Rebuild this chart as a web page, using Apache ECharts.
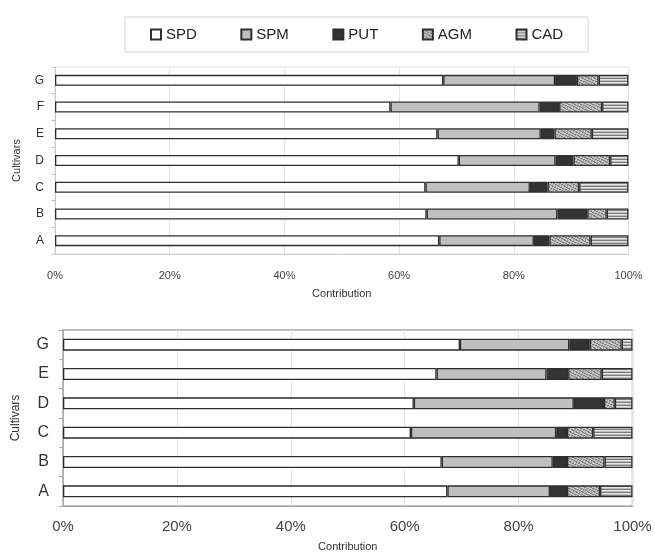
<!DOCTYPE html>
<html>
<head>
<meta charset="utf-8">
<script src="https://cdn.jsdelivr.net/npm/echarts@6/dist/echarts.min.js"></script>
<style>
  html, body { margin: 0; padding: 0; background: #fff; }
  #chart { width: 655px; height: 553px; }
</style>
</head>
<body>
<div id="chart"></div>
<script>
// Component shares (%) per cultivar, listed bottom-to-top as on the category axis
const components = ['SPD', 'SPM', 'PUT', 'AGM', 'CAD'];

const cultivarsTop = ['A', 'B', 'C', 'D', 'E', 'F', 'G'];
const spdTop = [67.0, 64.8, 64.6, 70.4, 66.7, 58.5, 67.7];
const spmTop = [16.5, 22.8, 18.2, 16.9, 18.0, 26.0, 19.5];
const putTop = [2.7, 5.2, 3.1, 3.1, 2.4, 3.4, 3.8];
const agmTop = [7.2, 3.4, 5.5, 6.4, 6.5, 7.5, 3.8];
const cadTop = [6.6, 3.8, 8.6, 3.2, 6.4, 4.6, 5.2];

const cultivarsBottom = ['A', 'B', 'C', 'D', 'E', 'G'];
const spdBottom = [67.5, 66.5, 61.1, 61.6, 65.6, 69.7];
const spmBottom = [18.0, 19.5, 25.5, 28.1, 19.3, 19.2];
const putBottom = [3.0, 2.5, 1.9, 5.3, 3.8, 3.6];
const agmBottom = [5.8, 6.6, 4.6, 1.9, 5.9, 5.6];
const cadBottom = [5.7, 4.9, 6.9, 3.1, 5.4, 1.9];

const percentTicks = { min: 0, max: 100, interval: 20 };

// Small canvas tiles used as fill patterns
function makePattern(w, h, draw) {
  const c = document.createElement('canvas');
  c.width = w; c.height = h;
  const ctx = c.getContext('2d');
  draw(ctx);
  return { image: c, repeat: 'repeat' };
}

const agmFill = makePattern(6, 6, ctx => {
  ctx.fillStyle = '#c6c6c6';
  ctx.fillRect(0, 0, 6, 6);
  ctx.fillStyle = '#808080';
  [[0,0,2,1],[2,1,2,1],[4,2,2,1],[1,3,2,1],[3,4,2,1],[5,5,1,1],[0,5,1,1]].forEach(r => ctx.fillRect(r[0], r[1], r[2], r[3]));
  ctx.fillStyle = '#a0a0a0';
  [[3,0,1,1],[0,2,1,1],[5,3,1,1],[1,4,1,1],[3,5,1,1]].forEach(r => ctx.fillRect(r[0], r[1], r[2], r[3]));
});

const cadFill = makePattern(4, 3, ctx => {
  ctx.fillStyle = '#7c7c7c'; ctx.fillRect(0, 0, 4, 1);
  ctx.fillStyle = '#e6e6e6'; ctx.fillRect(0, 1, 4, 1);
  ctx.fillStyle = '#bdbdbd'; ctx.fillRect(0, 2, 4, 1);
});

const fills = ['#ffffff', '#c0c0c0', '#333333', agmFill, cadFill];
const topValues = [spdTop, spmTop, putTop, agmTop, cadTop];
const bottomValues = [spdBottom, spmBottom, putBottom, agmBottom, cadBottom];

const font = 'Liberation Sans, Arial, sans-serif';

function barSeries(idx, values, gridIdx, width) {
  return {
    name: components[idx],
    type: 'bar',
    stack: gridIdx === 0 ? 'upper' : 'lower',
    xAxisIndex: gridIdx,
    yAxisIndex: gridIdx,
    barWidth: width,
    data: values,
    itemStyle: { color: fills[idx], borderColor: '#2e2e2e', borderWidth: 1.3 },
    emphasis: { disabled: true },
    silent: true
  };
}

const series = [];
components.forEach((_, i) => series.push(barSeries(i, topValues[i], 0, 11)));
components.forEach((_, i) => series.push(barSeries(i, bottomValues[i], 1, 12)));

function valueAxis(gridIdx, labelSize, margin, nameGap, lineColor) {
  return {
    gridIndex: gridIdx,
    type: 'value',
    min: percentTicks.min,
    max: percentTicks.max,
    interval: percentTicks.interval,
    axisLabel: { formatter: '{value}%', fontSize: labelSize, color: '#444', margin: margin, fontFamily: font },
    axisLine: { show: true, lineStyle: { color: lineColor } },
    axisTick: { show: false },
    splitLine: { show: true, lineStyle: { color: '#e4e4e4' } },
    name: 'Contribution',
    nameLocation: 'middle',
    nameGap: nameGap,
    nameTextStyle: { fontSize: 11, color: '#333', fontFamily: font }
  };
}

function categoryAxis(gridIdx, cats, labelSize, margin, nameGap, nameSize, lineColor) {
  return {
    gridIndex: gridIdx,
    type: 'category',
    data: cats,
    axisLabel: { fontSize: labelSize, color: '#333', margin: margin, fontFamily: font },
    axisLine: { show: true, lineStyle: { color: lineColor } },
    axisTick: { show: true, length: 4, lineStyle: { color: lineColor } },
    name: 'Cultivars',
    nameLocation: 'middle',
    nameRotate: 90,
    nameGap: nameGap,
    nameTextStyle: { fontSize: nameSize, color: '#333', fontFamily: font }
  };
}

const chart = echarts.init(document.getElementById('chart'), null, { renderer: 'canvas' });
chart.setOption({
  animation: false,
  textStyle: { fontFamily: font },
  legend: {
    data: components,
    left: 125,
    top: 17,
    padding: [10, 25],
    itemGap: 43.5,
    itemWidth: 10,
    itemHeight: 10,
    icon: 'rect',
    borderColor: '#d4d4d4',
    borderWidth: 1,
    backgroundColor: '#fff',
    textStyle: { fontSize: 15, color: '#222', fontFamily: font },
    selectedMode: false
  },
  grid: [
    { left: 55, top: 67, width: 573.5, height: 187, show: true, borderColor: '#e2e2e2', borderWidth: 1, outerBoundsMode: 'none' },
    { left: 63, top: 330, width: 569.5, height: 176, show: true, borderColor: '#a8a8a8', borderWidth: 1.5, outerBoundsMode: 'none' }
  ],
  xAxis: [
    valueAxis(0, 11, 16, 34, '#d0d0d0'),
    valueAxis(1, 15, 13, 35, '#a8a8a8')
  ],
  yAxis: [
    categoryAxis(0, cultivarsTop, 12, 11, 33, 11, '#c8c8c8'),
    categoryAxis(1, cultivarsBottom, 16, 14, 41, 12, '#a8a8a8')
  ],
  series: series
});
</script>
</body>
</html>
